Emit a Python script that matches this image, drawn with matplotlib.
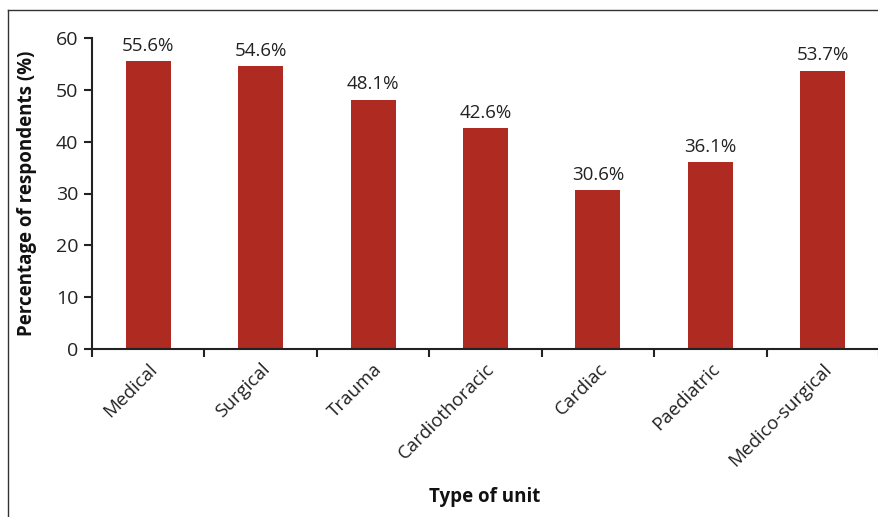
import matplotlib
matplotlib.use("Agg")
import matplotlib.pyplot as plt
from matplotlib.lines import Line2D

categories = ["Medical", "Surgical", "Trauma", "Cardiothoracic", "Cardiac", "Paediatric", "Medico-surgical"]
values = [55.6, 54.6, 48.1, 42.6, 30.6, 36.1, 53.7]
yticks = [0, 10, 20, 30, 40, 50, 60]

plt.rcParams['font.family'] = ['Open Sans', 'DejaVu Sans']

fig = plt.figure(figsize=(8.79, 5.17), dpi=100)
ax = fig.add_axes([92/879, 1-349/517, 1-92/879, (349-38)/517])

x = list(range(len(categories)))
ax.bar(x, values, width=0.4, color='#AF2A20')
for xi, v in zip(x, values):
    ax.text(xi, v + 1.2, f"{v:.1f}%", ha='center', va='bottom', fontsize=13.5, color='#222222')

ax.set_xlim(-0.5, len(categories) - 0.5)
ax.set_ylim(0, 60)
ax.set_yticks(yticks)
ax.set_yticklabels([str(t) for t in yticks], fontsize=14)
ax.set_xticks([i - 0.5 for i in range(len(categories) + 1)])
ax.set_xticklabels([])
ax.set_xticks(x, minor=True)
ax.set_xticklabels(categories, minor=True, rotation=45, ha='right', va='top',
                   rotation_mode='anchor', fontsize=13.5, color='#222222')
ax.tick_params(axis='x', which='minor', length=0, pad=8)
ax.tick_params(axis='x', which='major', length=6, width=1.5, direction='out', color='#222222')
ax.tick_params(axis='y', length=6, width=1.5, direction='out', color='#222222', labelcolor='#222222', pad=4)

for s in ['top', 'right']:
    ax.spines[s].set_visible(False)
for s in ['left', 'bottom']:
    ax.spines[s].set_linewidth(1.5)
    ax.spines[s].set_color('#222222')

fig.text(27/879, 1-193/517, "Percentage of respondents (%)", rotation=90, ha='center', va='center',
         fontsize=13.5, fontweight='bold', color='#111111')
fig.text(485/879, 1-497/517, "Type of unit", ha='center', va='center',
         fontsize=13.5, fontweight='bold', color='#111111')

fig.add_artist(Line2D([8/879, 8/879], [0, 1-10/517], transform=fig.transFigure, color='#333333', lw=1.0))
fig.add_artist(Line2D([8/879, 1], [1-10/517, 1-10/517], transform=fig.transFigure, color='#333333', lw=1.0))

fig.savefig("out.png", dpi=100)
